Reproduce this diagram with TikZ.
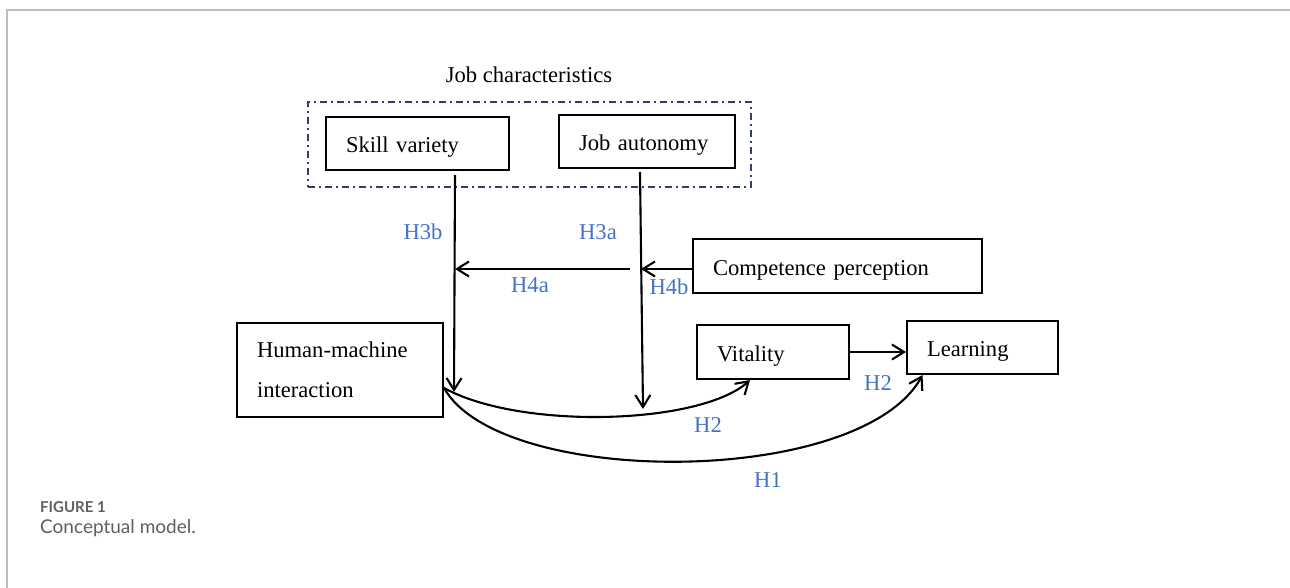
\documentclass[tikz,border=0pt]{standalone}
\usepackage{fontspec}
\setmainfont{Liberation Serif}
\newfontfamily\capfont{Lato}
\usetikzlibrary{arrows.meta,calc}
\definecolor{lblblue}{RGB}{68,114,196}
\definecolor{navy}{RGB}{47,62,110}
\definecolor{framegray}{RGB}{190,190,190}
\definecolor{capgray}{RGB}{95,95,95}
\begin{document}
\begin{tikzpicture}[x=1pt,y=-1pt,
  boxbase/.style={draw,line width=2.1pt,align=left,inner xsep=20pt,inner ysep=0pt,
    font=\fontsize{22.6}{26}\selectfont},
  box/.style={boxbase,text height=18pt,text depth=0pt},
  lbl/.style={text=lblblue,font=\fontsize{22.6}{26}\selectfont,inner sep=0pt},
  arr/.style={line width=2.1pt,-{Straight Barb[length=12pt,width=15pt,line width=2.1pt]}}]
\useasboundingbox (0,0) rectangle (1290,588);
\draw[framegray,line width=1.5pt] (1290,10) -- (7,10) -- (7,588);

% group
\node[font=\fontsize{22.6}{26}\selectfont,inner sep=0pt] (jctitle) at (529,75) {Job characteristics};
\node[draw=navy,line width=2pt,dash pattern=on 7pt off 4pt on 2pt off 4pt,
      minimum width=443pt,minimum height=85pt,inner sep=0pt] (jc) at (529.5,144.5) {};

% boxes
\node[box,text width=143pt,minimum height=53pt] (sv) at (417.5,143.5) {Skill variety};
\node[box,text width=136pt,minimum height=53pt] (ja) at (647,141.5) {Job autonomy};
\node[box,text width=249pt,minimum height=54pt] (cp) at (837.5,266) {Competence perception};
\node[boxbase,font=\fontsize{22.6}{40}\selectfont,text width=166pt,minimum height=94pt] (hmi) at (340,370) {Human-machine\\interaction};
\node[box,text width=112pt,minimum height=54pt] (vit) at (773,352) {Vitality};
\node[box,text width=111pt,minimum height=53pt] (lrn) at (982.5,347.5) {Learning};

% coordinates
\coordinate (svtop) at (455,175);
\coordinate (svend) at (454,392);
\coordinate (jatop) at (640,172);
\coordinate (jaend) at (643,409);
\coordinate (jahit) at (641,269);
\coordinate (hstart) at (630,269);
\coordinate (svhit) at (455,269);
\coordinate (hs) at ([yshift=-18pt]hmi.east);

% connectors
\draw[arr] (svtop) -- (svend);
\draw[arr] (jatop) -- (jaend);
\draw[arr] (cp.west |- jahit) -- (jahit);
\draw[arr] (hstart) -- (svhit);
\draw[arr] (vit.east) -- (vit.east -| lrn.west);
\draw[arr] (hs) .. controls (520,430) and (700,425) .. ([xshift=-23pt]vit.south);
\draw[arr] (hs) .. controls (500,488) and (860,488) .. ([xshift=-60pt]lrn.south);

% labels
\node[lbl] (h3b) at (423,232) {H3b};
\node[lbl] (h3a) at (598,232) {H3a};
\node[lbl] (h4a) at (530,285) {H4a};
\node[lbl] (h4b) at (669,287) {H4b};
\node[lbl] (h2r) at (878,383) {H2};
\node[lbl] (h2l) at (708,425) {H2};
\node[lbl] (h1) at (768,480) {H1};

% caption
\node[anchor=west,text=capgray,font=\capfont\bfseries\fontsize{15}{18}\selectfont,inner sep=0pt] (figlbl) at (40,507) {FIGURE 1};
\node[anchor=west,text=capgray,font=\capfont\fontsize{19}{22}\selectfont,inner sep=0pt] (figcap) at (40,528) {Conceptual model.};
\end{tikzpicture}
\end{document}
